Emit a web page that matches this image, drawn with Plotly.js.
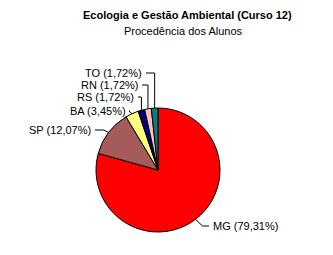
<!DOCTYPE html>
<html><head><meta charset="utf-8">
<script src="https://cdn.plot.ly/plotly-3.0.1.min.js"></script>
<style>html,body{margin:0;padding:0;background:#fff;}#c{width:333px;height:255px;}</style>
</head><body><div id="c"></div>
<script>
// Data
const states = ["MG", "SP", "BA", "RS", "RN", "TO"];
const students = [46, 7, 2, 1, 1, 1];
const colors = ["#FF0000", "#A65B5B", "#FFFF80", "#000080", "#FFC0C0", "#008080"];
const titleText = "Ecologia e Gestão Ambiental (Curso 12)";
const subtitleText = "Procedência dos Alunos";

// Layout (pixels)
const W = 333, H = 255;
const cx = 158, cy = 170, R = 62;
// label anchor: [x of text edge, y center, side, elbow offset from edge point]
const labelPos = {
  MG: {x: 211, y: 226, side: "left",  elbow: 7},
  SP: {x: 93,  y: 130, side: "right", elbow: -5},
  BA: {x: 128, y: 111, side: "right", elbow: -3},
  RS: {x: 136, y: 97,  side: "right", elbow: 0},
  RN: {x: 140, y: 85,  side: "right", elbow: 0},
  TO: {x: 144, y: 73,  side: "right", elbow: 0}
};

const px = x => x / W, py = y => 1 - y / H;
const total = students.reduce((a, b) => a + b, 0);
const fmt = v => (v / total * 100).toFixed(2).replace('.', ',') + "%";
const font = {family: "Liberation Sans, Arial, sans-serif", size: 11, color: "#000"};

const annotations = [
  {text: "<b>" + titleText + "</b>", x: px(187), y: py(15), xref: "paper", yref: "paper",
   showarrow: false, xanchor: "center", yanchor: "middle", font: font},
  {text: subtitleText, x: px(183), y: py(31), xref: "paper", yref: "paper",
   showarrow: false, xanchor: "center", yanchor: "middle", font: font}
];
const shapes = [];
let cum = 0;
states.forEach((s, i) => {
  const mid = (cum + students[i] / 2) / total * 2 * Math.PI;
  cum += students[i];
  const ex = cx + R * Math.sin(mid), ey = cy - R * Math.cos(mid);
  const L = labelPos[s];
  const elbowX = ex + L.elbow;
  const startX = L.side === "right" ? L.x + 2 : L.x - 2;
  annotations.push({text: s + " (" + fmt(students[i]) + ")", x: px(L.x), y: py(L.y),
    xref: "paper", yref: "paper", showarrow: false,
    xanchor: L.side === "right" ? "right" : "left", yanchor: "middle", font: font});
  shapes.push({type: "path", xref: "paper", yref: "paper",
    path: `M ${px(startX)} ${py(L.y)} L ${px(elbowX)} ${py(L.y)} L ${px(ex)} ${py(ey)}`,
    line: {color: "#000", width: 1}});
});

const data = [{
  type: "pie", values: students, labels: states, sort: false,
  direction: "clockwise", rotation: 0, textinfo: "none", hoverinfo: "none",
  marker: {colors: colors, line: {color: "#000", width: 1}},
  domain: {x: [(cx - R) / W, (cx + R) / W], y: [1 - (cy + R) / H, 1 - (cy - R) / H]}
}];
const layout = {
  width: W, height: H, margin: {l: 0, r: 0, t: 0, b: 0},
  paper_bgcolor: "#fff", plot_bgcolor: "#fff", showlegend: false,
  annotations: annotations, shapes: shapes
};
Plotly.newPlot("c", data, layout, {displayModeBar: false, staticPlot: true});
</script></body></html>
